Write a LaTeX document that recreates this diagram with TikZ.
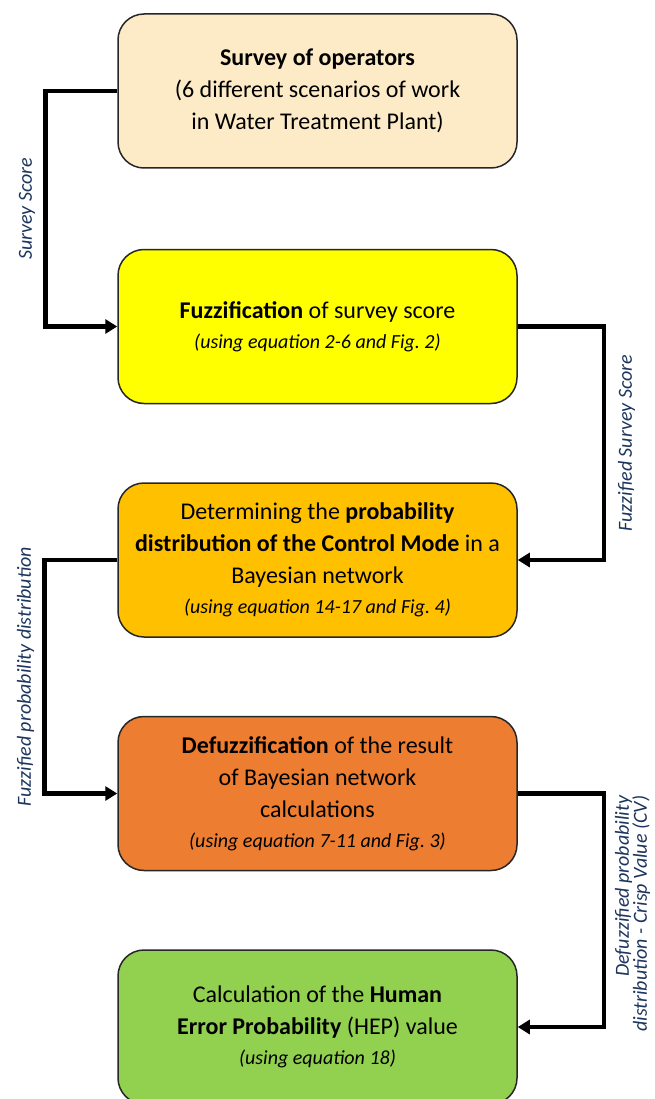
\documentclass[tikz,border=0pt]{standalone}
\usepackage{fontspec}
\setmainfont{Carlito}
\usepackage{xcolor}
\usetikzlibrary{arrows.meta,positioning}
\definecolor{surveyfill}{HTML}{FDEBC8}
\definecolor{fuzzfill}{HTML}{FFFF00}
\definecolor{bayesfill}{HTML}{FFC000}
\definecolor{defuzzfill}{HTML}{ED7D31}
\definecolor{hepfill}{HTML}{92D050}
\definecolor{lblblue}{HTML}{1C355E}
\tikzset{
  flowbox/.style={rectangle, rounded corners=26pt, draw=black!85, line width=1.5pt, align=center,
                  inner sep=4pt, minimum width=399pt, minimum height=154pt,
                  font=\fontsize{24}{32}\selectfont},
  surveybox/.style={flowbox, fill=surveyfill},
  fuzzbox/.style={flowbox, fill=fuzzfill},
  bayesbox/.style={flowbox, fill=bayesfill},
  defuzzbox/.style={flowbox, fill=defuzzfill},
  hepbox/.style={flowbox, fill=hepfill},
  flowarr/.style={-{Triangle[length=12pt,width=14pt]}, line width=4.5pt, draw=black},
  flowlbl/.style={font=\fontsize{20}{18}\selectfont\itshape, text=lblblue, inner sep=0pt},
}
\newcommand{\eqnote}[1]{{\fontsize{20}{30}\selectfont\itshape #1}}

\begin{document}
\begin{tikzpicture}[x=1pt, y=1pt, node distance=78pt]
    \useasboundingbox (0,0) rectangle (654,-1099);
    \node[surveybox] (survey) at (317.5,-91)
          {\textbf{Survey of operators}\\(6 different scenarios of work\\in Water Treatment Plant)};
    \node[fuzzbox, below=80pt of survey] (fuzz)
          {\textbf{Fuzzification} of survey score\\[-2pt]\eqnote{(using equation 2-6 and Fig.~2)}};
    \node[bayesbox, below=of fuzz] (bayes)
          {Determining the \textbf{probability}\\\textbf{distribution of the Control Mode} in a\\Bayesian network\\[-2pt]\eqnote{(using equation 14-17 and Fig.~4)}};
    \node[defuzzbox, below=of bayes] (defuzz)
          {\textbf{Defuzzification} of the result\\of Bayesian network\\calculations\\[-2pt]\eqnote{(using equation 7-11 and Fig.~3)}};
    \node[hepbox, below=of defuzz] (hep)
          {Calculation of the \textbf{Human}\\\textbf{Error Probability} (HEP) value\\[-2pt]\eqnote{(using equation 18)}};
    % connectors between the steps
    \draw[flowarr] (survey.west) -- ++(-72,0) |-
          node[flowlbl, pos=0.25, xshift=-8pt, rotate=90, anchor=south] {Survey Score} (fuzz.west);
    \draw[flowarr] (fuzz.east) -- ++(86,0) |-
          node[flowlbl, pos=0.25, xshift=12pt, rotate=90, anchor=north] {Fuzzified Survey Score} (bayes.east);
    \draw[flowarr] (bayes.west) -- ++(-73,0) |-
          node[flowlbl, pos=0.25, xshift=-8pt, rotate=90, anchor=south] {Fuzzified probability distribution} (defuzz.west);
    \draw[flowarr] (defuzz.east) -- ++(86,0) |-
          node[flowlbl, pos=0, xshift=9pt, rotate=90, anchor=north east, align=right]
          {Defuzzified probability\\distribution - Crisp Value (CV)} (hep.east);
\end{tikzpicture}
\end{document}
